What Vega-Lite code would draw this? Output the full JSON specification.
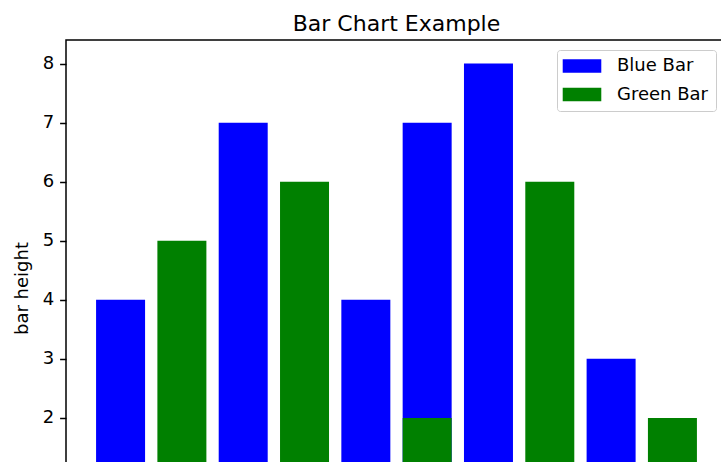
{
  "$schema": "https://vega.github.io/schema/vega-lite/v6.json",
  "width": 661,
  "height": 496,
  "autosize": {"type": "none"},
  "padding": {"left": 66, "top": 40, "right": 0, "bottom": 60},
  "background": "white",
  "title": {
    "text": "Bar Chart Example",
    "fontSize": 22,
    "font": "DejaVu Sans",
    "fontWeight": "normal",
    "color": "#000000",
    "anchor": "middle",
    "baseline": "alphabetic",
    "offset": -13
  },
  "data": {
    "values": [
      {"pos": 1, "value": 4, "series": "Blue Bar"},
      {"pos": 3, "value": 7, "series": "Blue Bar"},
      {"pos": 5, "value": 4, "series": "Blue Bar"},
      {"pos": 6, "value": 7, "series": "Blue Bar"},
      {"pos": 7, "value": 8, "series": "Blue Bar"},
      {"pos": 9, "value": 3, "series": "Blue Bar"},
      {"pos": 2, "value": 5, "series": "Green Bar"},
      {"pos": 4, "value": 6, "series": "Green Bar"},
      {"pos": 6, "value": 2, "series": "Green Bar"},
      {"pos": 8, "value": 6, "series": "Green Bar"},
      {"pos": 10, "value": 2, "series": "Green Bar"}
    ]
  },
  "mark": {"type": "bar", "size": 49},
  "encoding": {
    "x": {
      "field": "pos",
      "type": "quantitative",
      "scale": {"domain": [0.11, 10.89], "nice": false, "zero": false, "padding": 0},
      "axis": {
        "title": null,
        "values": [2, 4, 6, 8, 10],
        "grid": false,
        "domain": false,
        "tickColor": "#000000",
        "tickSize": 6.4,
        "tickWidth": 1.5,
        "labelFontSize": 18,
        "labelColor": "#000000",
        "labelPadding": 6
      }
    },
    "y": {
      "field": "value",
      "type": "quantitative",
      "stack": null,
      "scale": {"domain": [0, 8.4], "nice": false, "zero": true},
      "axis": {
        "title": "bar height",
        "values": [0, 1, 2, 3, 4, 5, 6, 7, 8],
        "grid": false,
        "domain": false,
        "tickColor": "#000000",
        "tickSize": 6.4,
        "tickWidth": 1.5,
        "labelFontSize": 18,
        "labelColor": "#000000",
        "labelPadding": 6,
        "titleFontSize": 18,
        "titleFontWeight": "normal",
        "titleColor": "#000000",
        "titlePadding": 11
      }
    },
    "color": {
      "field": "series",
      "type": "nominal",
      "scale": {"domain": ["Blue Bar", "Green Bar"], "range": ["#0000ff", "#008000"]},
      "legend": {
        "title": null,
        "orient": "none",
        "legendX": 491,
        "legendY": 10,
        "symbolType": "M-2.9,-1H2.9V1H-2.9Z",
        "symbolSize": 177,
        "symbolOffset": 9,
        "symbolStrokeWidth": 0,
        "symbolOpacity": 1,
        "labelFontSize": 18,
        "labelColor": "#000000",
        "labelOffset": 26,
        "padding": 7,
        "rowPadding": 10.5,
        "strokeColor": "#cccccc",
        "fillColor": "#ffffff",
        "cornerRadius": 3
      }
    }
  },
  "config": {
    "font": "DejaVu Sans",
    "view": {"stroke": "#000000", "strokeWidth": 1.5}
  }
}
